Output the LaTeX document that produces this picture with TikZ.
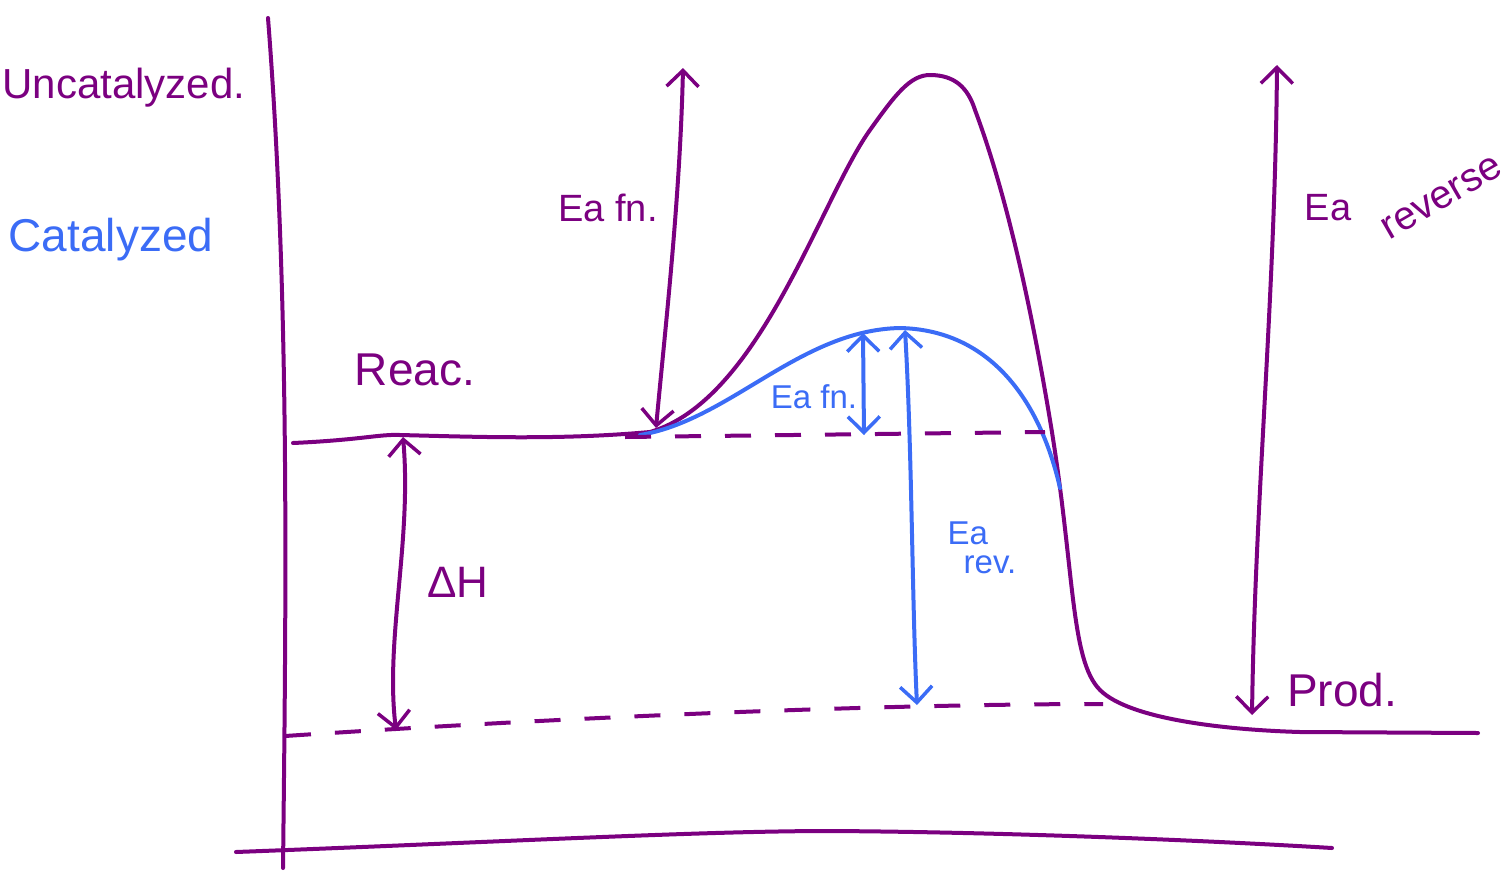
\documentclass[tikz,border=0pt]{standalone}
\usepackage{fontspec}
\setmainfont{Liberation Sans}
\usetikzlibrary{arrows.meta}
\definecolor{pur}{RGB}{123,0,128}
\definecolor{blu}{RGB}{59,108,246}
\tikzset{
  pen/.style={line width=4pt, line cap=round, line join=round},
  upen/.style={pen, draw=pur},
  bpen/.style={pen, draw=blu},
  dash line/.style={upen, dash pattern=on 26pt off 24pt, line cap=butt},
  barb/.style={{Straight Barb[length=16pt,width=32pt,line width=3.5pt]}-{Straight Barb[length=16pt,width=32pt,line width=3.5pt]}},
  ulab/.style={text=pur, inner sep=1pt, font=\fontsize{40}{42}\selectfont},
  blab/.style={text=blu, inner sep=1pt, font=\fontsize{40}{42}\selectfont},
}
\begin{document}
\begin{tikzpicture}[x=1pt,y=-1pt]
\useasboundingbox (0,0) rectangle (1508,871);
% axes
\coordinate (ytop) at (268,18);
\coordinate (ybot) at (283,868);
\coordinate (xl) at (236,852);
\coordinate (xm) at (830,831);
\coordinate (xr) at (1332,848);
\draw[upen] (ytop) .. controls (290,300) and (286,600) .. (ybot);
\draw[upen] (xl) .. controls (500,842) and (700,831) .. (xm) .. controls (1000,832) and (1200,840) .. (xr);
% uncatalyzed curve
\coordinate (r0) at (293,443);
\coordinate (r1) at (650,432);
\coordinate (peak) at (930,75);
\coordinate (p1) at (1100,690);
\coordinate (p2) at (1478,733);
\draw[upen] (r0) .. controls (360,440) and (380,434) .. (400,435)
  .. controls (480,437) and (560,440) .. (r1)
  .. controls (760,400) and (820,200) .. (870,130)
  .. controls (895,95) and (910,75) .. (peak)
  .. controls (955,75) and (968,88) .. (975,110)
  .. controls (1005,190) and (1030,300) .. (1050,420)
  .. controls (1075,570) and (1070,660) .. (p1)
  .. controls (1130,720) and (1230,730) .. (1300,732)
  -- (p2);
% catalyzed curve
\coordinate (c0) at (640,435);
\coordinate (cpk) at (900,328);
\coordinate (c1) at (1060,488);
\draw[bpen] (c0) .. controls (730,420) and (800,330) .. (cpk)
  .. controls (990,330) and (1040,400) .. (c1);
% dashed levels
\coordinate (d1a) at (625,437);
\coordinate (d1b) at (1045,432);
\coordinate (d2a) at (285,736);
\coordinate (d2b) at (1103,704);
\draw[dash line] (d1a) -- (d1b);
\draw[dash line] (d2a) .. controls (600,715) and (900,704) .. (d2b);
% arrows
\coordinate (efa) at (683,68);
\coordinate (efb) at (656,428);
\draw[upen, barb] (efa) .. controls (680,200) and (665,330) .. (efb);
\coordinate (era) at (1277,65);
\coordinate (erb) at (1252,715);
\draw[upen, barb] (era) .. controls (1275,300) and (1255,500) .. (erb);
\coordinate (dha) at (403,437);
\coordinate (dhb) at (396,730);
\draw[upen, barb] (dha) .. controls (412,540) and (385,640) .. (dhb);
\coordinate (bfa) at (863,333);
\coordinate (bfb) at (864,435);
\draw[bpen, barb] (bfa) -- (bfb);
\coordinate (bra) at (905,330);
\coordinate (brb) at (917,705);
\draw[bpen, barb] (bra) .. controls (912,450) and (912,600) .. (brb);
% labels
\node[ulab, font=\fontsize{42}{44}\selectfont] (uncat) at (124,88) {Uncatalyzed.};
\node[blab, font=\fontsize{46}{48}\selectfont] (cat) at (111,240) {Catalyzed};
\node[ulab, font=\fontsize{46}{48}\selectfont] (reac) at (415,370) {Reac.};
\node[ulab, font=\fontsize{44}{46}\selectfont] (dh) at (458,582) {ΔH};
\node[ulab, font=\fontsize{38}{40}\selectfont] (eafn) at (608,208) {Ea fn.};
\node[ulab, font=\fontsize{38}{40}\selectfont] (earevA) at (1328,208) {Ea};
\node[ulab, rotate=30] (earevB) at (1442,198) {reverse};
\node[ulab, font=\fontsize{46}{48}\selectfont] (prod) at (1342,690) {Prod.};
\node[blab, font=\fontsize{33}{35}\selectfont] (beafn) at (814,397) {Ea fn.};
\node[blab, font=\fontsize{33}{35}\selectfont, align=left] (bearev) at (982,548) {Ea\\[-6pt]\hspace*{16pt}rev.};
\end{tikzpicture}
\end{document}
